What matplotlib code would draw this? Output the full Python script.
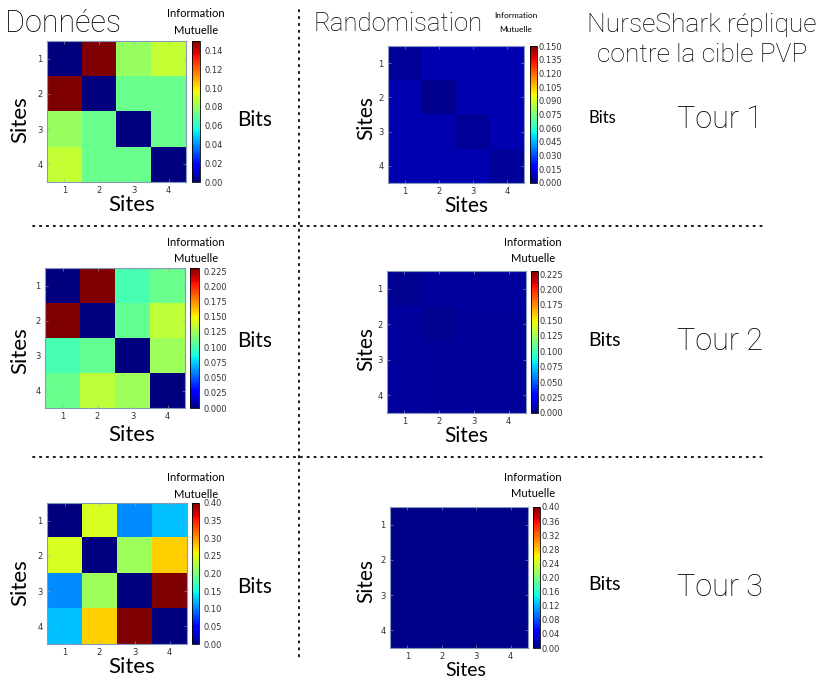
import numpy as np
import matplotlib
matplotlib.use("Agg")
from matplotlib import pyplot as plt
from matplotlib.lines import Line2D

W, H = 834, 682

sites = ["1", "2", "3", "4"]
tours = ["Tour 1", "Tour 2", "Tour 3"]

# mutual information (bits) between sites, real data
data_t1 = [[0.000, 0.150, 0.080, 0.088],
           [0.150, 0.000, 0.072, 0.072],
           [0.080, 0.072, 0.000, 0.072],
           [0.088, 0.072, 0.072, 0.000]]
data_t2 = [[0.000, 0.230, 0.100, 0.110],
           [0.230, 0.000, 0.108, 0.133],
           [0.100, 0.108, 0.000, 0.124],
           [0.110, 0.133, 0.124, 0.000]]
data_t3 = [[0.000, 0.245, 0.105, 0.125],
           [0.245, 0.000, 0.216, 0.276],
           [0.105, 0.216, 0.000, 0.400],
           [0.125, 0.276, 0.400, 0.000]]

# randomised sequences
rand_t1 = [[0.003, 0.007, 0.007, 0.007],
           [0.007, 0.002, 0.007, 0.007],
           [0.007, 0.007, 0.003, 0.007],
           [0.007, 0.007, 0.007, 0.004]]
rand_t2 = [[0.004, 0.007, 0.007, 0.007],
           [0.007, 0.004, 0.006, 0.006],
           [0.007, 0.006, 0.005, 0.006],
           [0.007, 0.006, 0.006, 0.006]]
rand_t3 = [[0.004, 0.004, 0.004, 0.004],
           [0.004, 0.004, 0.004, 0.004],
           [0.004, 0.004, 0.004, 0.004],
           [0.004, 0.004, 0.004, 0.004]]

# colorbar ticks (min, max, step, format)
data_ticks = [(0.0, 0.14, 0.02, "%.2f"), (0.0, 0.225, 0.025, "%.3f"), (0.0, 0.40, 0.05, "%.2f")]
rand_ticks = [(0.0, 0.150, 0.015, "%.3f"), (0.0, 0.225, 0.025, "%.3f"), (0.0, 0.40, 0.04, "%.2f")]

title_font = dict(family=["Roboto", "DejaVu Sans"], weight="light", color="black")
label_font = dict(family=["Lato", "DejaVu Sans"])

fig = plt.figure(figsize=(W / 100, H / 100), dpi=100)


def fx(x):
    return x / W


def fy(y):
    return 1 - y / H


def px_axes(x0, y0, x1, y1):
    return fig.add_axes([fx(x0), fy(y1), (x1 - x0) / W, (y1 - y0) / H])


def heatmap(box, cbox, mat, vmax, ticks, cb_pad):
    ax = px_axes(*box)
    im = ax.imshow(np.array(mat), cmap="jet", vmin=0, vmax=vmax,
                   interpolation="nearest", aspect="auto")
    ax.set_xticks(range(4))
    ax.set_yticks(range(4))
    ax.set_xticklabels(sites)
    ax.set_yticklabels(sites)
    ax.tick_params(direction="in", length=2, width=0.4, color="#aaaaaa",
                   labelsize=6, labelcolor="#333333", pad=3, top=True, right=True)
    for s in ax.spines.values():
        s.set_color("#8899bb")
        s.set_linewidth(0.8)
    cax = px_axes(*cbox)
    cb = fig.colorbar(im, cax=cax)
    lo, hi, step, fmt = ticks
    tk = np.arange(lo, hi + step / 2, step)
    cb.set_ticks(tk)
    cb.set_ticklabels([fmt % t for t in tk])
    cb.ax.tick_params(length=0, labelsize=6, labelcolor="#333333", pad=cb_pad)
    cb.outline.set_linewidth(0.6)
    return ax


# heatmap boxes in pixels (x0, y0, x1, y1)
data_boxes = [(47, 41, 186, 182), (45, 268, 185, 408), (47, 503, 187, 644)]
data_cboxes = [(192, 41, 200, 182), (190, 268, 199, 408), (192, 503, 199, 644)]
rand_boxes = [(388, 46, 524, 183), (387, 271, 526, 413), (390, 507, 528, 648)]
rand_cboxes = [(530, 46, 537, 183), (531, 271, 538, 413), (533, 507, 540, 648)]

datas = [data_t1, data_t2, data_t3]
rands = [rand_t1, rand_t2, rand_t3]

for i in range(3):
    vmax = np.max(datas[i])
    heatmap(data_boxes[i], data_cboxes[i], datas[i], vmax, data_ticks[i], 3)
    heatmap(rand_boxes[i], rand_cboxes[i], rands[i], vmax, rand_ticks[i], 1)

# axis labels "Sites"
ylab_y = [120, 351, 583]
xlab_y = [205, 435, 667]
rxlab_y = [206, 436, 671]
for i in range(3):
    fig.text(fx(20), fy(ylab_y[i]), "Sites", rotation=90, ha="center", va="center",
             fontsize=16, **label_font)
    fig.text(fx(132), fy(xlab_y[i]), "Sites", ha="center", va="center",
             fontsize=16, **label_font)
    fig.text(fx(366), fy(ylab_y[i] - 2), "Sites", rotation=90, ha="center", va="center",
             fontsize=15, **label_font)
    fig.text(fx(466), fy(rxlab_y[i]), "Sites", ha="center", va="center",
             fontsize=14 if i == 2 else 15, **label_font)

# colorbar titles
info_y = [(17, 34), (246, 262), (481, 498)]
rinfo_y = [(18, 32), (246, 262), (481, 497)]
for i in range(3):
    fig.text(fx(196), fy(info_y[i][0]), "Information", ha="center", va="baseline",
             fontsize=8, **label_font)
    fig.text(fx(196), fy(info_y[i][1]), "Mutuelle", ha="center", va="baseline",
             fontsize=8, **label_font)
    rs = 6 if i == 0 else 8
    rx = 516 if i == 0 else 533
    fig.text(fx(rx), fy(rinfo_y[i][0]), "Information", ha="center", va="baseline",
             fontsize=rs, **label_font)
    fig.text(fx(rx), fy(rinfo_y[i][1]), "Mutuelle", ha="center", va="baseline",
             fontsize=rs, **label_font)

# "Bits" and tour labels
bits_y = [120, 341, 587]
rbits_y = [118, 340, 585]
for i in range(3):
    fig.text(fx(237), fy(bits_y[i]), "Bits", ha="left", va="center", fontsize=15, **label_font)
    fig.text(fx(588), fy(rbits_y[i]), "Bits", ha="left", va="center",
             fontsize=12 if i == 0 else 14, **label_font)
    fig.text(fx(720), fy(rbits_y[i] + 2), tours[i], ha="center", va="center",
             fontsize=22, **title_font)

# column titles
fig.text(fx(5), fy(32), "Données", ha="left", va="baseline", fontsize=22, **title_font)
fig.text(fx(313), fy(31), "Randomisation", ha="left", va="baseline", fontsize=18.5, **title_font)
fig.text(fx(702), fy(32), "NurseShark réplique", ha="center", va="baseline", fontsize=19, **title_font)
fig.text(fx(702), fy(62), "contre la cible PVP", ha="center", va="baseline", fontsize=19, **title_font)

# dotted separators
dots = dict(color="black", linewidth=1.3, linestyle=(0, (0.8, 3)), dash_capstyle="round")
fig.add_artist(Line2D([fx(299), fx(299)], [fy(10), fy(660)], **dots))
fig.add_artist(Line2D([fx(33), fx(765)], [fy(226), fy(226)], **dots))
fig.add_artist(Line2D([fx(33), fx(765)], [fy(457), fy(457)], **dots))

fig.savefig("out.png", dpi=100, facecolor="white")
